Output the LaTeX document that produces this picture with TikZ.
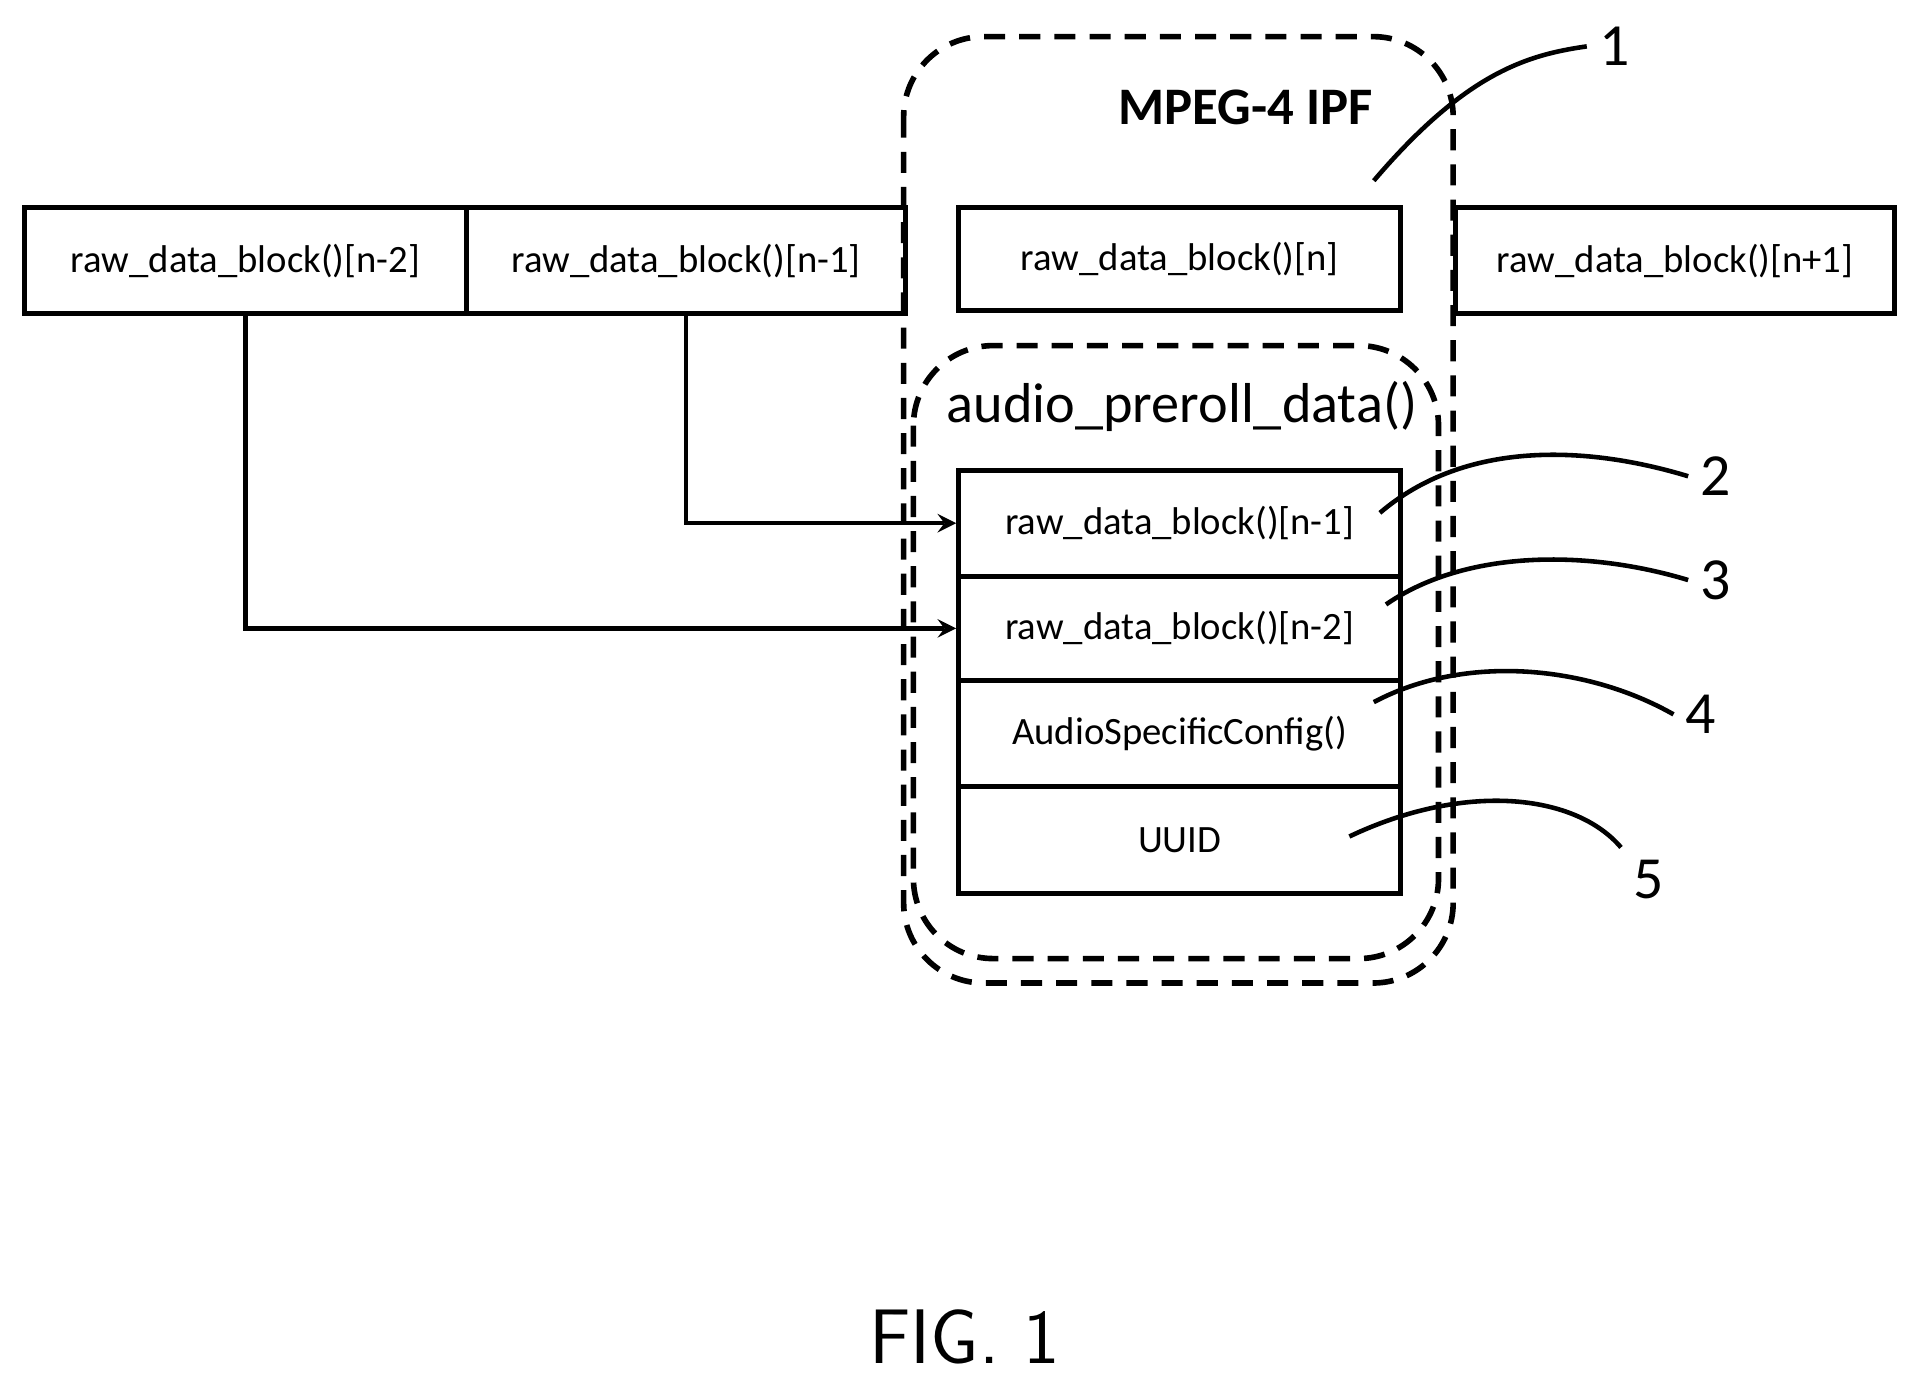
\documentclass[tikz,border=0pt]{standalone}
\usepackage{fontspec}
\setmainfont{Carlito}
\usetikzlibrary{arrows}
\tikzstyle{block} = [rectangle, draw=black, line width=1.4pt, inner sep=0pt, font=\fontsize{11}{13}\selectfont]
\tikzstyle{frame} = [draw=black, line width=1.6pt, dash pattern=on 6pt off 4pt, rounded corners=0.8cm]
\tikzstyle{arrow} = [line width=1.3pt,->,>=stealth]
\tikzstyle{callout} = [line width=1.3pt]
\tikzstyle{numlabel} = [font=\fontsize{17}{19}\selectfont]
\begin{document}
\begin{tikzpicture}[x=0.0122cm, y=-0.0122cm]
\useasboundingbox (0,0) rectangle (1560,1128);

% Frames
\draw [frame] (740,30) rectangle (1190,805);
\draw [frame] (748,283) rectangle (1178,785);
\node (ipf) at (1020,88) {\fontsize{15}{17}\selectfont\bfseries MPEG-4 IPF};
\node (preroll) at (968,333) {\fontsize{16}{18}\selectfont audio\_preroll\_data()};

% Top row
\node (bm2) [block, anchor=north west, minimum width=4.42cm, minimum height=1.06cm] at (18,168) {raw\_data\_block()[n-2]};
\node (bm1) [block, anchor=north west, minimum width=4.39cm, minimum height=1.06cm] at (380,168) {raw\_data\_block()[n-1]};
\node (bn) [block, anchor=north west, minimum width=4.42cm, minimum height=1.03cm] at (783,168) {raw\_data\_block()[n]};
\node (bp1) [block, anchor=north west, minimum width=4.39cm, minimum height=1.06cm] at (1190,168) {raw\_data\_block()[n+1]};

% Stack
\node (sm1) [block, anchor=north west, minimum width=4.42cm, minimum height=1.06cm] at (783,383) {raw\_data\_block()[n-1]};
\node (sm2) [block, anchor=north west, minimum width=4.42cm, minimum height=1.04cm] at (783,470) {raw\_data\_block()[n-2]};
\node (asc) [block, anchor=north west, minimum width=4.42cm, minimum height=1.06cm] at (783,555) {AudioSpecificConfig()};
\node (uuid) [block, anchor=north west, minimum width=4.42cm, minimum height=1.07cm] at (783,642) {UUID};

% Arrows
\draw [arrow] (bm2.south) |- (sm2.west);
\draw [arrow] (bm1.south) |- (sm1.west);

% Callouts
\node (n1) [numlabel] at (1322,38) {1};
\node (n2) [numlabel] at (1405,390) {2};
\node (n3) [numlabel] at (1405,475) {3};
\node (n4) [numlabel] at (1393,585) {4};
\node (n5) [numlabel] at (1350,720) {5};
\draw [callout] (1125,148) .. controls (1200,60) and (1250,45) .. (n1.west);
\draw [callout] (1130,420) .. controls (1200,360) and (1300,365) .. (n2.west);
\draw [callout] (1135,495) .. controls (1200,450) and (1300,450) .. (n3.west);
\draw [callout] (1125,575) .. controls (1200,535) and (1300,545) .. (n4.west);
\draw [callout] (1105,685) .. controls (1200,640) and (1290,650) .. (n5.north west);

\node (fig) at (790,1095) {\fontsize{22}{24}\selectfont\sffamily FIG. 1};
\end{tikzpicture}
\end{document}
